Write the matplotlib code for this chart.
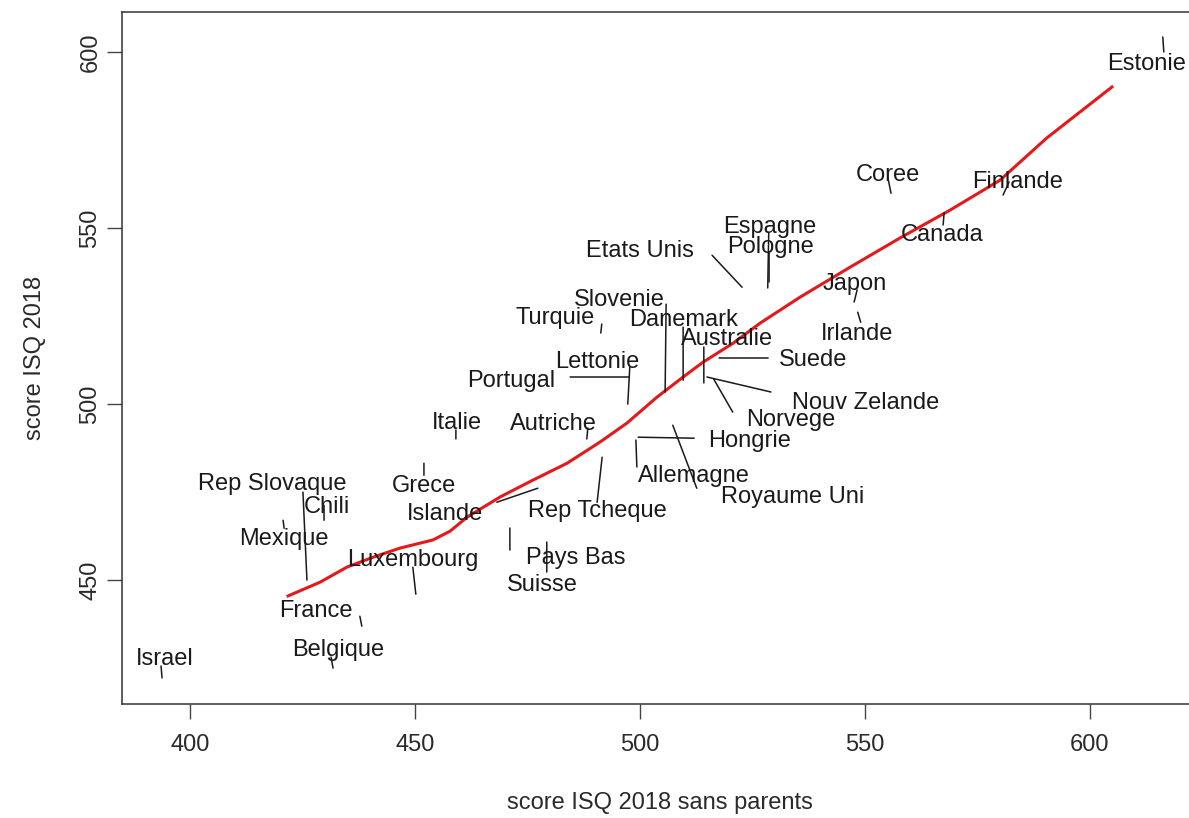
import matplotlib.pyplot as plt

plt.rcParams['font.family'] = ['Liberation Sans', 'DejaVu Sans']

pays = ['Estonie', 'Finlande', 'Coree', 'Canada', 'Espagne', 'Pologne', 'Etats Unis',
        'Japon', 'Irlande', 'Slovenie', 'Turquie', 'Danemark', 'Australie', 'Suede',
        'Nouv Zelande', 'Norvege', 'Lettonie', 'Portugal', 'Autriche', 'Italie',
        'Hongrie', 'Allemagne', 'Royaume Uni', 'Rep Tcheque', 'Grece', 'Islande',
        'Rep Slovaque', 'Chili', 'Mexique', 'Luxembourg', 'Pays Bas', 'Suisse',
        'France', 'Belgique', 'Israel']

score_sans_parents = [616.2, 580.7, 555.8, 567.6, 528.4, 528.7, 522.7,
                      547.6, 548.4, 505.6, 491.3, 509.6, 514.2, 517.6,
                      514.9, 516.4, 497.3, 497.6, 488.2, 459.1,
                      499.6, 499.1, 507.3, 491.6, 452.0, 477.3,
                      426.0, 429.8, 420.7, 450.2, 471.1, 479.3,
                      438.2, 431.8, 393.8]

score_isq = [604.3, 559.4, 559.9, 554.3, 533.0, 534.7, 533.2,
             529.0, 526.1, 503.4, 520.2, 506.8, 506.0, 513.1,
             507.7, 507.1, 500.0, 507.7, 490.1, 490.1,
             490.6, 489.8, 494.0, 484.9, 483.2, 476.1,
             450.0, 467.0, 467.0, 446.0, 464.8, 460.8,
             436.9, 425.0, 422.2]

# smoothed trend (loess)
lisse_x = [421.8, 428.9, 434.9, 440.7, 446.7, 454.0, 457.8, 461.6, 468.9, 476.2,
           483.8, 491.1, 497.1, 503.8, 509.6, 514.0, 520.7, 526.7, 535.6, 546.7,
           557.8, 568.9, 580.0, 590.4, 604.9]
lisse_y = [445.5, 449.4, 453.7, 456.5, 459.1, 461.4, 463.9, 467.9, 473.6, 478.4,
           483.2, 489.2, 494.6, 502.0, 507.7, 511.9, 517.3, 523.0, 530.4, 538.9,
           547.2, 555.1, 563.6, 575.6, 590.1]

# label layout, pixel offsets from each point: end of the leader line, then text
trait = [(1, -15), (6, 13), (-3, 15), (-1, -12), (1, 55), (0, 30), (-30, 32),
         (3, 12), (3, -10), (1, 88), (1, 9), (0, 53), (0, 36), (49, 0),
         (64, -15), (19, -33), (2, 37), (-59, 0), (1, 11), (0, 9),
         (56, -1), (1, -27), (24, -63), (-5, -45), (0, -12), (-41, -14),
         (-4, 88), (0, 15), (1, -8), (-3, 27), (0, -22), (0, -30),
         (-2, 10), (-2, 11), (-1, 12)]
texte = [(-16, -25), (15, 16), (-3, 21), (-2, -20), (2, 63), (1, 37), (-102, 39),
         (1, 21), (-1, -19), (-46, 95), (-46, 18), (0, 63), (23, 46), (94, 0),
         (159, -23), (77, -38), (-31, 45), (-118, -1), (-33, 17), (1, 18),
         (111, -1), (58, -33), (120, -69), (-5, -51), (0, -20), (-93, -23),
         (-35, 99), (3, 16), (1, -16), (-3, 37), (66, -27), (-4, -40),
         (-46, 18), (5, 21), (3, 21)]

W, H = 1189, 818
fig = plt.figure(figsize=(W / 100, H / 100), dpi=100)
ax = fig.add_axes([122 / W, 114 / H, 1075 / W, 692 / H])
ax.set_xlim(384.9, 623.8)
ax.set_ylim(414.8, 611.4)

ax.plot(lisse_x, lisse_y, color='#e3191c', lw=2.2, zorder=3)

ink = '#1a1a1a'
for nom, x, y, (tx, ty), (lx, ly) in zip(pays, score_sans_parents, score_isq, trait, texte):
    ax.annotate('', xy=(x, y), xytext=(tx, ty), textcoords='offset pixels',
                arrowprops=dict(arrowstyle='-', color=ink, lw=1.1, shrinkA=0, shrinkB=0))
    # baseline sits half a cap height below the visual centre
    ax.annotate(nom, xy=(x, y), xytext=(lx, ly - 8.5), textcoords='offset pixels',
                ha='center', va='baseline', fontsize=17, color=ink)

ax.set_xticks([400, 450, 500, 550, 600])
ax.set_yticks([450, 500, 550, 600])
ax.tick_params(direction='out', length=10.8, width=1.0, color='#444444',
               labelsize=17, labelcolor='#2a2a2a')
ax.tick_params(axis='x', pad=11)
ax.tick_params(axis='y', pad=4)
for lab in ax.get_yticklabels():
    lab.set_rotation(90)
    lab.set_va('center')

for side in ax.spines.values():
    side.set_linewidth(1.1)
    side.set_color('#333333')

ax.set_xlabel('score ISQ 2018 sans parents', fontsize=17, color='#2a2a2a')
ax.set_ylabel('score ISQ 2018', fontsize=17, color='#2a2a2a')
ax.xaxis.set_label_coords(0.5, -0.143)
ax.xaxis.label.set_va('center')
ax.yaxis.set_label_coords(-0.081, 0.5)
ax.yaxis.label.set_va('center')

fig.savefig('out.png', dpi=100)
